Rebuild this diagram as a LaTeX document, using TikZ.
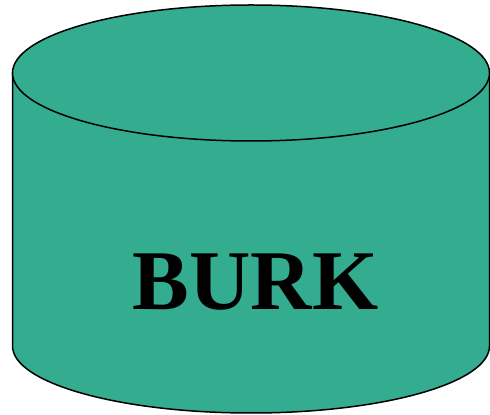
\documentclass[tikz,border=0pt]{standalone}
\usepackage{fontspec}
\setmainfont{Liberation Serif}
\usepackage{tikz}
\definecolor{burkgreen}{RGB}{52,172,143}

\begin{document}
\begin{tikzpicture}[x=1pt, y=1pt,
  body/.style={draw=black, line width=1.5pt, fill=burkgreen},
  lbl/.style={font=\fontsize{85}{85}\selectfont\bfseries, inner sep=0pt}]
\useasboundingbox (0,0) rectangle (490,415);
% cylinder body and lid
\draw[body] (12.5,342) -- (12.5,69) arc[start angle=180, end angle=360, x radius=238.5, y radius=67]
  -- (489.5,342) -- cycle;
\draw[body] (251,342) ellipse[x radius=238.5, y radius=68];
\node[lbl, anchor=base] (burk) at (255.5,105) {BURK};
\end{tikzpicture}
\end{document}
